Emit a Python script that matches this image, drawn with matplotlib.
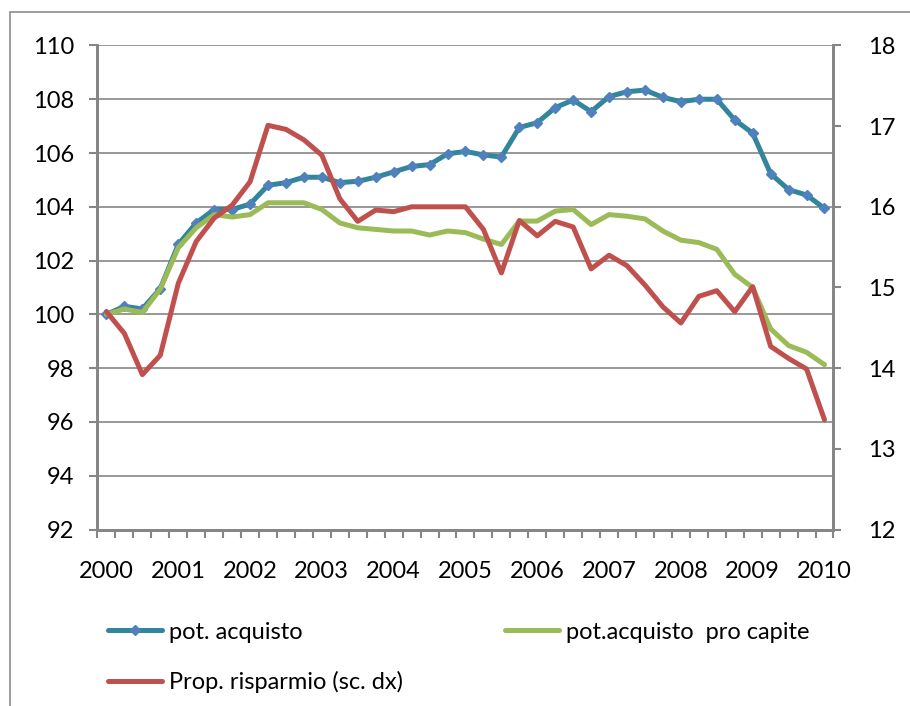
import numpy as np
import matplotlib
matplotlib.use("Agg")
import matplotlib.pyplot as plt
from matplotlib.patches import Rectangle
from matplotlib.lines import Line2D

plt.rcParams['font.family'] = ['Lato', 'DejaVu Sans']

# quarterly data, 2000Q1 .. 2010Q1
years = [str(y) for y in range(2000, 2011)]

pot_acquisto = [100.0, 100.3, 100.2, 100.96, 102.6, 103.4, 103.9, 103.9, 104.1, 104.8,
                104.9, 105.1, 105.1, 104.9, 104.95, 105.1, 105.3, 105.5, 105.57, 105.97,
                106.06, 105.93, 105.85, 106.95, 107.13, 107.69, 107.97, 107.54, 108.1, 108.28,
                108.34, 108.07, 107.91, 108.0, 108.0, 107.23, 106.74, 105.23, 104.64, 104.44,
                103.94]

pot_pro_capite = [100.0, 100.2, 100.07, 100.94, 102.48, 103.22, 103.71, 103.62, 103.71, 104.15,
                  104.15, 104.15, 103.9, 103.4, 103.22, 103.16, 103.1, 103.1, 102.95, 103.1,
                  103.04, 102.8, 102.6, 103.47, 103.47, 103.84, 103.9, 103.34, 103.71, 103.65,
                  103.55, 103.1, 102.76, 102.67, 102.42, 101.49, 101.0, 99.46, 98.84, 98.59,
                  98.13]

prop_risparmio = [14.70, 14.43, 13.92, 14.16, 15.05, 15.57, 15.86, 16.02, 16.31, 17.01,
                  16.96, 16.83, 16.64, 16.10, 15.82, 15.96, 15.94, 16.0, 16.0, 16.0,
                  16.0, 15.72, 15.18, 15.83, 15.64, 15.82, 15.75, 15.23, 15.40, 15.27,
                  15.03, 14.76, 14.56, 14.89, 14.96, 14.70, 15.01, 14.27, 14.12, 13.99,
                  13.36]

GRAY = '#868686'
BLUE_LINE = '#31859c'
BLUE_MK = '#4f81bd'
GREEN = '#9bbb59'
RED = '#c0504d'
FS = 17

n = len(pot_acquisto)
x = np.arange(n)

fig = plt.figure(figsize=(9.1, 7.06), dpi=100)
ax = fig.add_axes([0.1071, 0.25, 0.8088, 0.6856])
ax2 = ax.twinx()

ax.plot(x, pot_acquisto, color=BLUE_LINE, lw=3.6, marker='D', ms=5.5,
        mfc=BLUE_MK, mec=BLUE_MK, solid_capstyle='round', zorder=3)
ax.plot(x, pot_pro_capite, color=GREEN, lw=3.6, solid_capstyle='round', zorder=4)
ax2.plot(x, prop_risparmio, color=RED, lw=3.6, solid_capstyle='round', zorder=5)

ax.set_xlim(-0.5, n - 0.5)
ax.set_ylim(92, 110)
ax.set_yticks(np.arange(92, 111, 2))
ax2.set_ylim(12, 18)
ax2.set_yticks(np.arange(12, 19, 1))

ax.set_xticks(np.arange(0, n, 4))
ax.set_xticklabels(years)
ax.set_xticks(np.arange(-0.5, n, 1), minor=True)
ax.tick_params(axis='x', which='major', length=0, pad=23, labelsize=FS)
ax.tick_params(axis='x', which='minor', length=6, width=1.5, color=GRAY, direction='out')
ax.tick_params(axis='y', length=6, width=1.5, color=GRAY, pad=11, labelsize=FS)
ax2.tick_params(axis='y', length=6, width=1.5, color=GRAY, pad=19, labelsize=FS)

ax.grid(axis='y', color=GRAY, lw=1.2)
ax.set_axisbelow(True)

for a in (ax, ax2):
    a.spines['top'].set_visible(False)
    for s in ('left', 'right', 'bottom'):
        a.spines[s].set_color(GRAY)
        a.spines[s].set_linewidth(2)

h_blue = Line2D([], [], color=BLUE_LINE, lw=3.6, marker='D', ms=5.5,
                mfc=BLUE_MK, mec=BLUE_MK, solid_capstyle='round')
h_green = Line2D([], [], color=GREEN, lw=3.6, solid_capstyle='round')
h_red = Line2D([], [], color=RED, lw=3.6, solid_capstyle='round')
fig.legend([h_blue, h_red, h_green],
           ['pot. acquisto', 'Prop. risparmio (sc. dx)', 'pot.acquisto  pro capite'],
           ncol=2, loc='upper left', bbox_to_anchor=(0.108, 0.133),
           frameon=False, fontsize=FS, handlelength=2.3, handletextpad=0.3,
           columnspacing=4.3, labelspacing=1.2, borderaxespad=0,
           bbox_transform=fig.transFigure)

# outer chart frame (cropped at right and bottom)
fig.add_artist(Rectangle((9.5 / 910, -0.1), 1.2, 1 - 11.7 / 706 + 0.1,
                         transform=fig.transFigure, fill=False, ec='#8c8c8c', lw=1.2))

fig.savefig('out.png', dpi=100)
